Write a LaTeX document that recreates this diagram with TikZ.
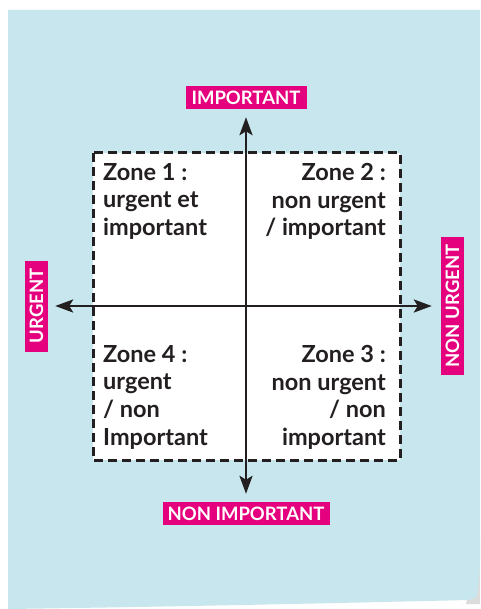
\documentclass[tikz,border=0pt]{standalone}
\usepackage{fontspec}
\setmainfont{Lato}
\usetikzlibrary{arrows.meta}
\definecolor{note}{RGB}{199,230,238}
\definecolor{mag}{RGB}{229,0,125}
\definecolor{ink}{RGB}{35,31,32}
\tikzset{
  tag/.style={fill=mag, text=white, inner sep=0pt, font=\fontsize{18.5}{18.5}\selectfont\bfseries, minimum height=23pt},
  zone/.style={inner sep=0pt, text=ink, font=\fontsize{23.5}{27.7}\selectfont\bfseries},
  axis/.style={line width=2.7pt, draw=ink, {Stealth[length=18pt,width=13pt,inset=4pt]}-{Stealth[length=18pt,width=13pt,inset=4pt]}},
  dbox/.style={draw=ink, fill=white, line width=3pt, dash pattern=on 9pt off 5pt}
}
\begin{document}
\begin{tikzpicture}[x=1pt,y=-1pt]
\useasboundingbox (0,0) rectangle (480,609);
\fill[white] (0,0) rectangle (480,609);
% shadow of the curled corner
\fill[gray!45, opacity=0.6] (480,540) -- (480,604) -- (466,604) -- cycle;
% sticky note
\fill[note] (8,10) -- (480,10) -- (480,560) .. controls (479,585) and (478,592) .. (476,598)
  -- (468,600) .. controls (300,604) and (150,607) .. (8,609) -- cycle;
% dashed box
\draw[dbox] (93,153) rectangle (400,460);
% labels
\node[tag, minimum width=121pt] (imp) at (246,97.5) {IMPORTANT};
\node[tag, minimum width=167pt] (nimp) at (246,513.5) {NON IMPORTANT};
\node[tag, minimum width=91pt, rotate=90] (urg) at (36.5,306) {URGENT};
\node[tag, minimum width=137pt, rotate=90] (nurg) at (452.5,306) {NON URGENT};
% axes
\draw[axis, shorten <=8pt, shorten >=8pt] (imp) -- (nimp);
\draw[axis, shorten <=7pt, shorten >=9pt] (urg) -- (nurg);
% zones
\node[zone, anchor=north west, align=left] (z1) at (103,163) {Zone 1 :\\urgent et\\important};
\node[zone, anchor=north east, align=right] (z2) at (386,163) {Zone 2 :\\non urgent\\/ important};
\node[zone, anchor=north west, align=left] (z4) at (103,345) {Zone 4 :\\urgent\\/ non\\Important};
\node[zone, anchor=north east, align=right] (z3) at (386,345) {Zone 3 :\\non urgent\\/ non\\important};
\end{tikzpicture}
\end{document}
